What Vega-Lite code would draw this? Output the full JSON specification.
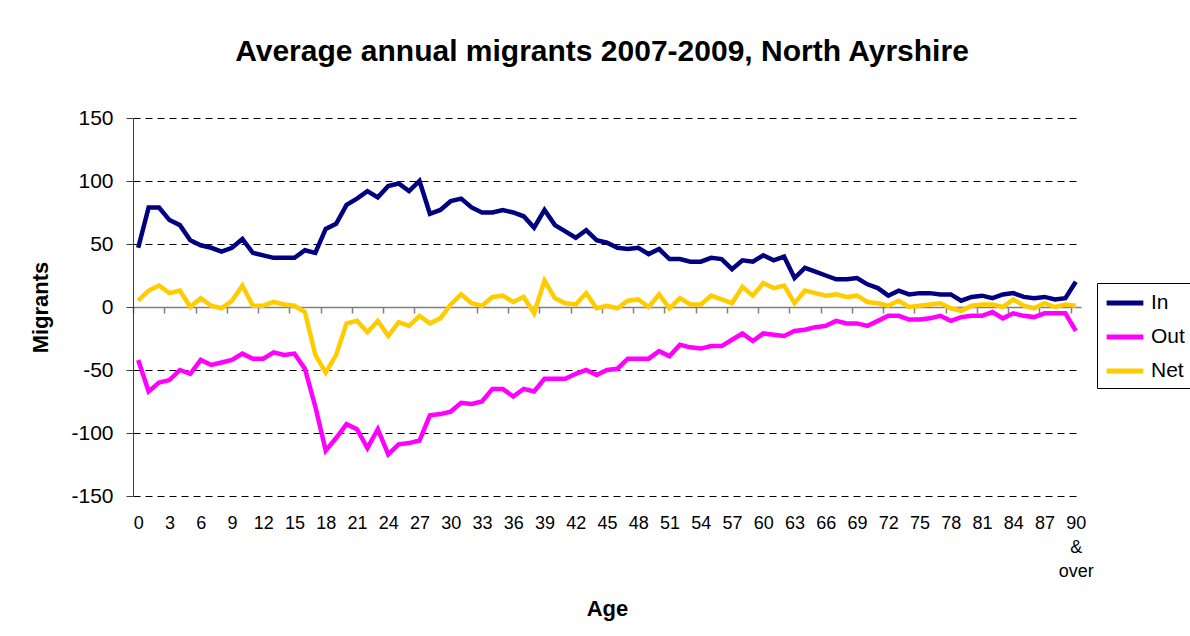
{
  "$schema": "https://vega.github.io/schema/vega-lite/v6.json",
  "width": 948,
  "height": 378,
  "autosize": {"type": "none"},
  "padding": {"left": 133, "top": 118, "right": 109, "bottom": 140},
  "background": "white",
  "title": {
    "text": "Average annual migrants 2007-2009, North Ayrshire",
    "font": "Liberation Sans",
    "fontSize": 30,
    "fontWeight": "bold",
    "color": "black",
    "baseline": "alphabetic",
    "anchor": "middle",
    "offset": 16,
    "dx": -5
  },
  "datasets": {
    "migrants": [
      {"age":0,"series":"In","value":47},{"age":1,"series":"In","value":79},{"age":2,"series":"In","value":79},{"age":3,"series":"In","value":69},{"age":4,"series":"In","value":65},{"age":5,"series":"In","value":53},{"age":6,"series":"In","value":49},{"age":7,"series":"In","value":47},{"age":8,"series":"In","value":44},{"age":9,"series":"In","value":47},
      {"age":10,"series":"In","value":54},{"age":11,"series":"In","value":43},{"age":12,"series":"In","value":41},{"age":13,"series":"In","value":39},{"age":14,"series":"In","value":39},{"age":15,"series":"In","value":39},{"age":16,"series":"In","value":45},{"age":17,"series":"In","value":43},{"age":18,"series":"In","value":62},{"age":19,"series":"In","value":66},
      {"age":20,"series":"In","value":81},{"age":21,"series":"In","value":86},{"age":22,"series":"In","value":92},{"age":23,"series":"In","value":87},{"age":24,"series":"In","value":96},{"age":25,"series":"In","value":98},{"age":26,"series":"In","value":92},{"age":27,"series":"In","value":100},{"age":28,"series":"In","value":74},{"age":29,"series":"In","value":77},
      {"age":30,"series":"In","value":84},{"age":31,"series":"In","value":86},{"age":32,"series":"In","value":79},{"age":33,"series":"In","value":75},{"age":34,"series":"In","value":75},{"age":35,"series":"In","value":77},{"age":36,"series":"In","value":75},{"age":37,"series":"In","value":72},{"age":38,"series":"In","value":63},{"age":39,"series":"In","value":77},
      {"age":40,"series":"In","value":65},{"age":41,"series":"In","value":60},{"age":42,"series":"In","value":55},{"age":43,"series":"In","value":61},{"age":44,"series":"In","value":53},{"age":45,"series":"In","value":51},{"age":46,"series":"In","value":47},{"age":47,"series":"In","value":46},{"age":48,"series":"In","value":47},{"age":49,"series":"In","value":42},
      {"age":50,"series":"In","value":46},{"age":51,"series":"In","value":38},{"age":52,"series":"In","value":38},{"age":53,"series":"In","value":36},{"age":54,"series":"In","value":36},{"age":55,"series":"In","value":39},{"age":56,"series":"In","value":38},{"age":57,"series":"In","value":30},{"age":58,"series":"In","value":37},{"age":59,"series":"In","value":36},
      {"age":60,"series":"In","value":41},{"age":61,"series":"In","value":37},{"age":62,"series":"In","value":40},{"age":63,"series":"In","value":23},{"age":64,"series":"In","value":31},{"age":65,"series":"In","value":28},{"age":66,"series":"In","value":25},{"age":67,"series":"In","value":22},{"age":68,"series":"In","value":22},{"age":69,"series":"In","value":23},
      {"age":70,"series":"In","value":18},{"age":71,"series":"In","value":15},{"age":72,"series":"In","value":9},{"age":73,"series":"In","value":13},{"age":74,"series":"In","value":10},{"age":75,"series":"In","value":11},{"age":76,"series":"In","value":11},{"age":77,"series":"In","value":10},{"age":78,"series":"In","value":10},{"age":79,"series":"In","value":5},
      {"age":80,"series":"In","value":8},{"age":81,"series":"In","value":9},{"age":82,"series":"In","value":7},{"age":83,"series":"In","value":10},{"age":84,"series":"In","value":11},{"age":85,"series":"In","value":8},{"age":86,"series":"In","value":7},{"age":87,"series":"In","value":8},{"age":88,"series":"In","value":6},{"age":89,"series":"In","value":7},
      {"age":90,"series":"In","value":20},
      {"age":0,"series":"Out","value":-42},{"age":1,"series":"Out","value":-67},{"age":2,"series":"Out","value":-60},{"age":3,"series":"Out","value":-58},{"age":4,"series":"Out","value":-50},{"age":5,"series":"Out","value":-53},{"age":6,"series":"Out","value":-42},{"age":7,"series":"Out","value":-46},{"age":8,"series":"Out","value":-44},{"age":9,"series":"Out","value":-42},
      {"age":10,"series":"Out","value":-37},{"age":11,"series":"Out","value":-41},{"age":12,"series":"Out","value":-41},{"age":13,"series":"Out","value":-36},{"age":14,"series":"Out","value":-38},{"age":15,"series":"Out","value":-37},{"age":16,"series":"Out","value":-49},{"age":17,"series":"Out","value":-79},{"age":18,"series":"Out","value":-114},{"age":19,"series":"Out","value":-104},
      {"age":20,"series":"Out","value":-93},{"age":21,"series":"Out","value":-97},{"age":22,"series":"Out","value":-112},{"age":23,"series":"Out","value":-97},{"age":24,"series":"Out","value":-117},{"age":25,"series":"Out","value":-109},{"age":26,"series":"Out","value":-108},{"age":27,"series":"Out","value":-106},{"age":28,"series":"Out","value":-86},{"age":29,"series":"Out","value":-85},
      {"age":30,"series":"Out","value":-83},{"age":31,"series":"Out","value":-76},{"age":32,"series":"Out","value":-77},{"age":33,"series":"Out","value":-75},{"age":34,"series":"Out","value":-65},{"age":35,"series":"Out","value":-65},{"age":36,"series":"Out","value":-71},{"age":37,"series":"Out","value":-65},{"age":38,"series":"Out","value":-67},{"age":39,"series":"Out","value":-57},
      {"age":40,"series":"Out","value":-57},{"age":41,"series":"Out","value":-57},{"age":42,"series":"Out","value":-53},{"age":43,"series":"Out","value":-50},{"age":44,"series":"Out","value":-54},{"age":45,"series":"Out","value":-50},{"age":46,"series":"Out","value":-49},{"age":47,"series":"Out","value":-41},{"age":48,"series":"Out","value":-41},{"age":49,"series":"Out","value":-41},
      {"age":50,"series":"Out","value":-35},{"age":51,"series":"Out","value":-39},{"age":52,"series":"Out","value":-30},{"age":53,"series":"Out","value":-32},{"age":54,"series":"Out","value":-33},{"age":55,"series":"Out","value":-31},{"age":56,"series":"Out","value":-31},{"age":57,"series":"Out","value":-26},{"age":58,"series":"Out","value":-21},{"age":59,"series":"Out","value":-27},
      {"age":60,"series":"Out","value":-21},{"age":61,"series":"Out","value":-22},{"age":62,"series":"Out","value":-23},{"age":63,"series":"Out","value":-19},{"age":64,"series":"Out","value":-18},{"age":65,"series":"Out","value":-16},{"age":66,"series":"Out","value":-15},{"age":67,"series":"Out","value":-11},{"age":68,"series":"Out","value":-13},{"age":69,"series":"Out","value":-13},
      {"age":70,"series":"Out","value":-15},{"age":71,"series":"Out","value":-11},{"age":72,"series":"Out","value":-7},{"age":73,"series":"Out","value":-7},{"age":74,"series":"Out","value":-10},{"age":75,"series":"Out","value":-10},{"age":76,"series":"Out","value":-9},{"age":77,"series":"Out","value":-7},{"age":78,"series":"Out","value":-11},{"age":79,"series":"Out","value":-8},
      {"age":80,"series":"Out","value":-7},{"age":81,"series":"Out","value":-7},{"age":82,"series":"Out","value":-4},{"age":83,"series":"Out","value":-9},{"age":84,"series":"Out","value":-5},{"age":85,"series":"Out","value":-7},{"age":86,"series":"Out","value":-8},{"age":87,"series":"Out","value":-5},{"age":88,"series":"Out","value":-5},{"age":89,"series":"Out","value":-5},
      {"age":90,"series":"Out","value":-19},
      {"age":0,"series":"Net","value":5},{"age":1,"series":"Net","value":13},{"age":2,"series":"Net","value":17},{"age":3,"series":"Net","value":11},{"age":4,"series":"Net","value":13},{"age":5,"series":"Net","value":0},{"age":6,"series":"Net","value":7},{"age":7,"series":"Net","value":1},{"age":8,"series":"Net","value":-1},{"age":9,"series":"Net","value":5},
      {"age":10,"series":"Net","value":17},{"age":11,"series":"Net","value":1},{"age":12,"series":"Net","value":1},{"age":13,"series":"Net","value":4},{"age":14,"series":"Net","value":2},{"age":15,"series":"Net","value":1},{"age":16,"series":"Net","value":-4},{"age":17,"series":"Net","value":-38},{"age":18,"series":"Net","value":-52},{"age":19,"series":"Net","value":-38},
      {"age":20,"series":"Net","value":-13},{"age":21,"series":"Net","value":-11},{"age":22,"series":"Net","value":-20},{"age":23,"series":"Net","value":-11},{"age":24,"series":"Net","value":-23},{"age":25,"series":"Net","value":-12},{"age":26,"series":"Net","value":-15},{"age":27,"series":"Net","value":-7},{"age":28,"series":"Net","value":-13},{"age":29,"series":"Net","value":-9},
      {"age":30,"series":"Net","value":2},{"age":31,"series":"Net","value":10},{"age":32,"series":"Net","value":3},{"age":33,"series":"Net","value":1},{"age":34,"series":"Net","value":8},{"age":35,"series":"Net","value":9},{"age":36,"series":"Net","value":4},{"age":37,"series":"Net","value":8},{"age":38,"series":"Net","value":-5},{"age":39,"series":"Net","value":21},
      {"age":40,"series":"Net","value":7},{"age":41,"series":"Net","value":3},{"age":42,"series":"Net","value":2},{"age":43,"series":"Net","value":11},{"age":44,"series":"Net","value":-1},{"age":45,"series":"Net","value":1},{"age":46,"series":"Net","value":-1},{"age":47,"series":"Net","value":5},{"age":48,"series":"Net","value":6},{"age":49,"series":"Net","value":0},
      {"age":50,"series":"Net","value":10},{"age":51,"series":"Net","value":-1},{"age":52,"series":"Net","value":7},{"age":53,"series":"Net","value":2},{"age":54,"series":"Net","value":2},{"age":55,"series":"Net","value":9},{"age":56,"series":"Net","value":6},{"age":57,"series":"Net","value":3},{"age":58,"series":"Net","value":16},{"age":59,"series":"Net","value":9},
      {"age":60,"series":"Net","value":19},{"age":61,"series":"Net","value":15},{"age":62,"series":"Net","value":17},{"age":63,"series":"Net","value":3},{"age":64,"series":"Net","value":13},{"age":65,"series":"Net","value":11},{"age":66,"series":"Net","value":9},{"age":67,"series":"Net","value":10},{"age":68,"series":"Net","value":8},{"age":69,"series":"Net","value":9},
      {"age":70,"series":"Net","value":4},{"age":71,"series":"Net","value":3},{"age":72,"series":"Net","value":1},{"age":73,"series":"Net","value":5},{"age":74,"series":"Net","value":0},{"age":75,"series":"Net","value":1},{"age":76,"series":"Net","value":2},{"age":77,"series":"Net","value":3},{"age":78,"series":"Net","value":-1},{"age":79,"series":"Net","value":-3},
      {"age":80,"series":"Net","value":1},{"age":81,"series":"Net","value":2},{"age":82,"series":"Net","value":2},{"age":83,"series":"Net","value":0},{"age":84,"series":"Net","value":6},{"age":85,"series":"Net","value":1},{"age":86,"series":"Net","value":-1},{"age":87,"series":"Net","value":3},{"age":88,"series":"Net","value":0},{"age":89,"series":"Net","value":2},
      {"age":90,"series":"Net","value":1}
    ]
  },
  "data": {"name": "migrants"},
  "mark": {"type": "line", "strokeWidth": 4.5},
  "encoding": {
    "x": {
      "field": "age",
      "type": "quantitative",
      "scale": {"domain": [-0.5, 90.5], "nice": false, "zero": false},
      "axis": {
        "values": [0,3,6,9,12,15,18,21,24,27,30,33,36,39,42,45,48,51,54,57,60,63,66,69,72,75,78,81,84,87,90],
        "offset": -189,
        "tickOffset": -5.209,
        "labelOffset": 5.209,
        "tickSize": 6,
        "tickColor": "#7f7f7f",
        "tickWidth": 1.5,
        "domainColor": "#7f7f7f",
        "domainWidth": 1.5,
        "grid": false,
        "labelPadding": 201,
        "labelFontSize": 18,
        "labelColor": "black",
        "labelFlush": false,
        "labelOverlap": false,
        "labelLineHeight": 24,
        "labelExpr": "datum.value == 90 ? ['90', '&', 'over'] : datum.label",
        "title": "Age",
        "titleFontSize": 22,
        "titleFontWeight": "bold",
        "titleColor": "black",
        "titleBaseline": "alphabetic",
        "titleY": 308
      }
    },
    "y": {
      "field": "value",
      "type": "quantitative",
      "scale": {"domain": [-150, 150], "nice": false},
      "axis": {
        "values": [-150, -100, -50, 0, 50, 100, 150],
        "labelExpr": "'' + datum.value",
        "grid": true,
        "gridColor": "black",
        "gridDash": [7, 5],
        "gridWidth": 1,
        "domainColor": "#404040",
        "tickColor": "#404040",
        "tickSize": 7,
        "labelPadding": 13,
        "labelFontSize": 21,
        "labelColor": "black",
        "title": "Migrants",
        "titleFontSize": 22,
        "titleFontWeight": "bold",
        "titleColor": "black",
        "titleBaseline": "alphabetic",
        "titleX": -86
      }
    },
    "color": {
      "field": "series",
      "type": "nominal",
      "scale": {"domain": ["In", "Out", "Net"], "range": ["#000080", "#FF00FF", "#FFCC00"]},
      "legend": {
        "orient": "none",
        "legendX": 964,
        "legendY": 165,
        "title": null,
        "strokeColor": "black",
        "fillColor": "white",
        "padding": 7,
        "labelFontSize": 21,
        "labelColor": "black",
        "symbolType": "M-1.75,0H1.75",
        "symbolSize": 441,
        "symbolStrokeWidth": 5,
        "symbolOffset": 8,
        "labelOffset": 13,
        "rowPadding": 11
      }
    }
  },
  "config": {
    "font": "Liberation Sans",
    "axis": {"labelFont": "Liberation Sans", "titleFont": "Liberation Sans"},
    "legend": {"labelFont": "Liberation Sans"},
    "view": {"stroke": null}
  }
}
